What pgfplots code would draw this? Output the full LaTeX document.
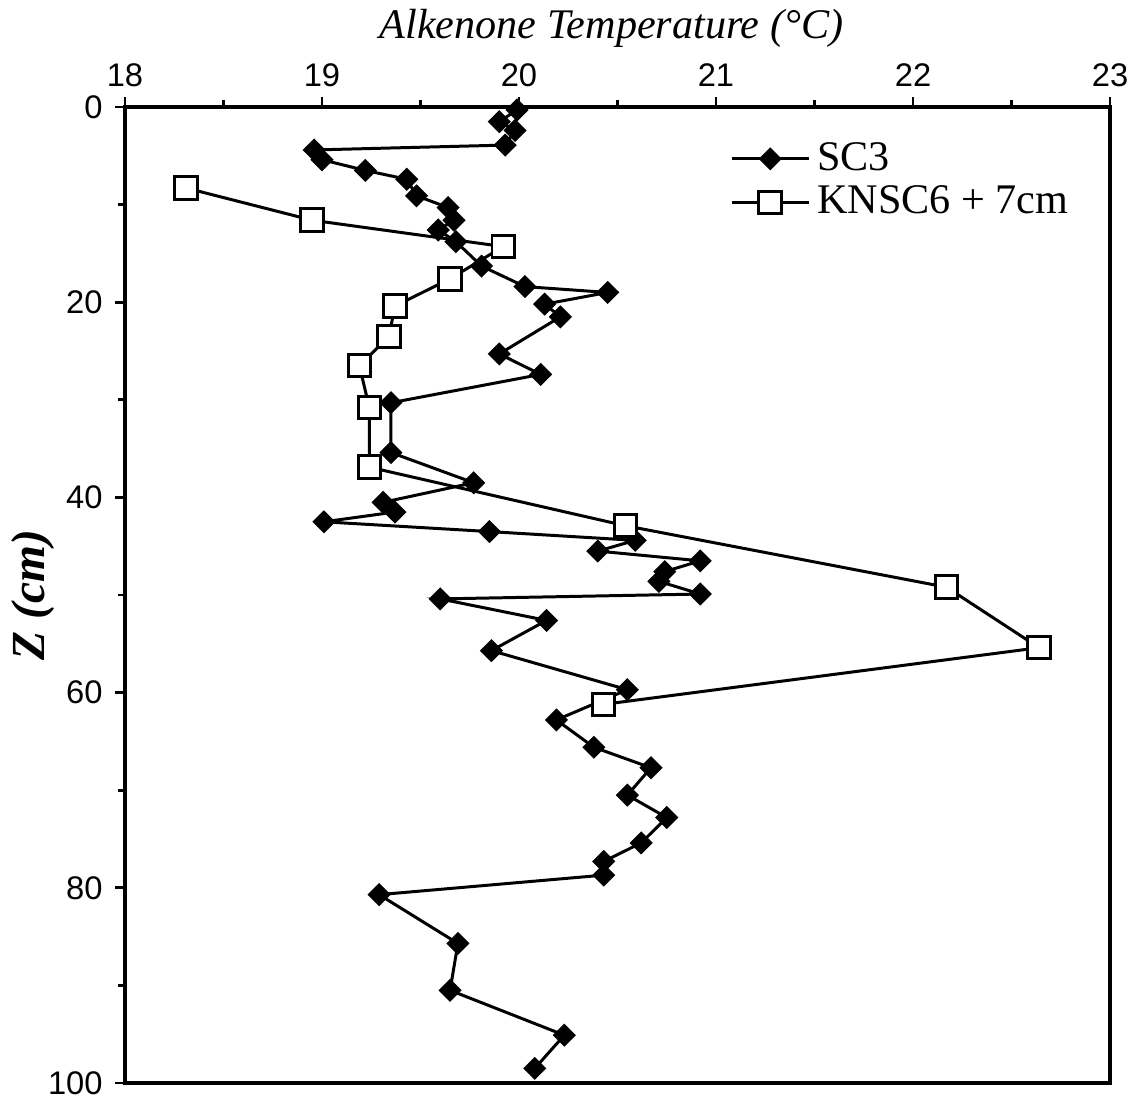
\documentclass[border=0pt]{standalone}
\usepackage{pgfplots}
\pgfplotsset{compat=1.18}
\usepackage{fontspec}
\setmainfont{Liberation Serif}
\newfontfamily\helv{Liberation Sans}
\usetikzlibrary{calc}

\pgfplotstableread{
x y
19.99 0.3
19.90 1.5
19.98 2.4
19.93 3.9
18.96 4.4
19.00 5.4
19.22 6.5
19.43 7.4
19.48 9.1
19.64 10.3
19.67 11.6
19.59 12.6
19.68 13.8
19.81 16.3
20.03 18.4
20.45 19.0
20.13 20.2
20.21 21.5
19.90 25.3
20.11 27.4
19.35 30.3
19.35 35.4
19.77 38.5
19.31 40.5
19.37 41.5
19.01 42.5
19.85 43.5
20.59 44.4
20.40 45.5
20.92 46.5
20.74 47.6
20.71 48.6
20.92 49.9
19.60 50.4
20.14 52.6
19.86 55.7
20.55 59.7
20.19 62.8
20.38 65.6
20.67 67.7
20.55 70.5
20.75 72.8
20.62 75.4
20.43 77.3
20.43 78.7
19.29 80.7
19.69 85.7
19.65 90.5
20.23 95.1
20.08 98.5
}\scthree

\pgfplotstableread{
x y
18.31 8.3
18.95 11.6
19.92 14.3
19.65 17.6
19.37 20.4
19.34 23.5
19.19 26.5
19.24 30.8
19.24 36.9
20.54 42.9
22.17 49.2
22.64 55.4
20.43 61.2
}\knsc

\begin{document}
\begin{tikzpicture}
\begin{axis}[
  name=ax, scale only axis, width=98.5mm, height=97.6mm,
  xmin=18, xmax=23, ymin=0, ymax=100, y dir=reverse,
  clip=false,
  axis line style={line width=0.9pt},
  xtick={18,19,...,23}, minor xtick={18.5,19.5,...,22.5},
  ytick={0,20,...,100}, minor ytick={10,30,...,90},
  xtick pos=right, xticklabel pos=right, ytick pos=left, yticklabel pos=left,
  tick align=outside, major tick length=1mm, minor tick length=0.7mm,
  tick style={line width=0.8pt, black},
  /pgf/number format/assume math mode=true,
  ticklabel style={font=\helv\fontsize{9.3}{10}\selectfont},
  xticklabel style={yshift=-0.2mm},
  xlabel={\textit{Alkenone Temperature (°C)}},
  xlabel style={font=\fontsize{12}{14}\selectfont, at={(axis description cs:0.5,1)}, anchor=base, yshift=6.9mm, xshift=-0.6mm},
  ylabel={Z (cm)},
  ylabel style={font=\bfseries\itshape\fontsize{13.5}{15}\selectfont, at={(axis description cs:0,0.5)}, anchor=base, yshift=8mm},
  legend style={at={(axis description cs:0.603,0.979)}, anchor=north west, draw=none, fill=none,
    font=\fontsize{12}{13}\selectfont, row sep=-1pt},
  legend cell align=left,
  legend image code/.code={\draw[mark repeat=2,mark phase=2,#1] plot coordinates {(0cm,0cm) (0.385cm,0cm) (0.77cm,0cm)};},
]
\addplot[black, line width=0.85pt, mark=square*, mark size=1.9pt, mark options={rotate=45, fill=black, solid}] table[x=x,y=y] {\scthree};
\addlegendentry{SC3}
\addplot[black, line width=0.85pt, mark=square*, mark size=3.2pt, mark options={fill=white, solid}] table[x=x,y=y] {\knsc};
\addlegendentry{KNSC6 + 7cm}
\end{axis}
\pgfresetboundingbox
\path ($(ax.south west)+(-12.5mm,-1.9mm)$) rectangle ($(ax.north east)+(3mm,10.7mm)$);
\end{tikzpicture}
\end{document}
